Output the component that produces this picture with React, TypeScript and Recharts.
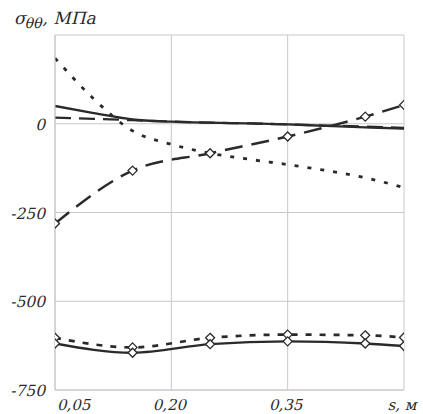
import React from 'react'
import { CartesianGrid, Line, LineChart, XAxis, YAxis } from 'recharts'

const xTicks = [0.05, 0.2, 0.35, 0.5]
const xTickLabels = ['0,05', '0,20', '0,35', 's, м']
const yTicks = [-750, -500, -250, 0, 250]

const xMarked = [0.05, 0.15, 0.25, 0.35, 0.45, 0.5]
const xDense = [0.05, 0.1, 0.15, 0.2, 0.25, 0.3, 0.35, 0.4, 0.45, 0.5]

const upperSolid = [50, 30, 12, 6, 3, 1, -2, -6, -10, -14]
const upperDashed = [17, 14, 10, 6, 3, 1, -2, -5, -8, -12]
const upperDotted = [185, 70, -20, -58, -83, -100, -115, -132, -152, -180]
const dashedMarked = [-281, -132, -83, -36, 20, 53]
const dottedMarked = [-603, -630, -603, -594, -596, -602]
const solidMarked = [-619, -645, -621, -613, -619, -626]

const toRows = (xs: number[], ys: number[]) => xs.map((x, i) => ({ x, y: ys[i] }))

const ink = '#2a2a2a'
const serif = 'DejaVu Serif'

// upright serif slanted by hand, the italic face is not available
const Slanted = ({ x, y, anchor, size, children }: any) => (
  <text
    transform={`translate(${x},${y}) skewX(-14)`}
    textAnchor={anchor}
    style={{ fontFamily: serif }}
    fontSize={size}
    fill={ink}
  >
    {children}
  </text>
)

const Diamond = (props: any) => {
  const { cx, cy } = props
  if (cx == null || cy == null) return null
  const r = 4.5
  return (
    <polygon
      points={`${cx},${cy - r} ${cx + r},${cy} ${cx},${cy + r} ${cx - r},${cy}`}
      fill="#fff"
      stroke={ink}
      strokeWidth={1.3}
    />
  )
}

const XTick = (props: any) => {
  const { x, y, payload } = props
  const i = xTicks.indexOf(payload.value)
  return (
    <Slanted x={i === 0 ? x + 2 : x - 2} y={y + 12} anchor={i === 0 ? 'start' : 'middle'} size={15}>
      {xTickLabels[i]}
    </Slanted>
  )
}

const YTick = (props: any) => {
  const { x, y, payload } = props
  if (payload.value === 250) return null
  return (
    <Slanted x={x - 2} y={y + 6} anchor="end" size={15.5}>
      {payload.value}
    </Slanted>
  )
}

export default function App() {
  return (
    <div style={{ position: 'absolute', left: 0, top: 0, background: '#fff' }}>
      <svg width={423} height={40} style={{ position: 'absolute', left: 0, top: 0 }}>
        <Slanted x={14} y={24} anchor="start" size={17}>
          σ
          <tspan fontSize={14} dy={4}>θθ</tspan>
          <tspan dy={-4}>, МПа</tspan>
        </Slanted>
      </svg>
      <LineChart width={423} height={414} margin={{ top: 35, right: 19, bottom: 0, left: 0 }}>
        <CartesianGrid stroke="#c8c8c8" strokeWidth={1} />
        <XAxis
          type="number"
          dataKey="x"
          domain={[0.05, 0.5]}
          ticks={xTicks}
          height={24}
          tick={<XTick />}
          tickLine={false}
          axisLine={{ stroke: '#c8c8c8' }}
          allowDataOverflow
        />
        <YAxis
          type="number"
          dataKey="y"
          domain={[-750, 250]}
          ticks={yTicks}
          width={55}
          tick={<YTick />}
          tickLine={false}
          axisLine={{ stroke: '#c8c8c8' }}
          allowDataOverflow
        />
        <Line data={toRows(xDense, upperDotted)} dataKey="y" type="monotone" stroke={ink} strokeWidth={2.8} strokeDasharray="4 9" dot={false} isAnimationActive={false} />
        <Line data={toRows(xDense, upperDashed)} dataKey="y" type="monotone" stroke={ink} strokeWidth={2.3} strokeDasharray="16 8" dot={false} isAnimationActive={false} />
        <Line data={toRows(xDense, upperSolid)} dataKey="y" type="monotone" stroke={ink} strokeWidth={2.3} dot={false} isAnimationActive={false} />
        <Line data={toRows(xMarked, dashedMarked)} dataKey="y" type="monotone" stroke={ink} strokeWidth={2.5} strokeDasharray="18 9" dot={<Diamond />} isAnimationActive={false} />
        <Line data={toRows(xMarked, dottedMarked)} dataKey="y" type="monotone" stroke={ink} strokeWidth={2.7} strokeDasharray="6 8" dot={<Diamond />} isAnimationActive={false} />
        <Line data={toRows(xMarked, solidMarked)} dataKey="y" type="monotone" stroke={ink} strokeWidth={2.3} dot={<Diamond />} isAnimationActive={false} />
      </LineChart>
    </div>
  )
}
